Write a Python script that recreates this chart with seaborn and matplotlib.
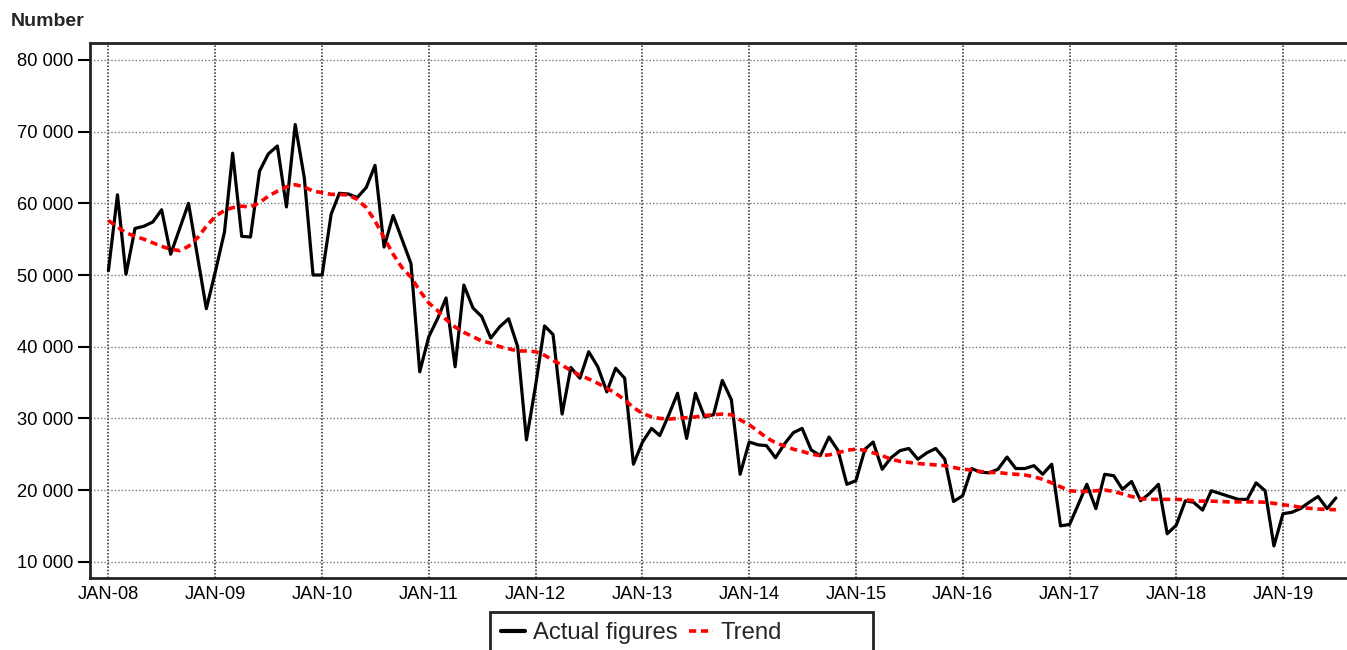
import matplotlib
matplotlib.use('Agg')
import matplotlib.pyplot as plt
import matplotlib.dates as mdates
import matplotlib.ticker as mticker
from matplotlib.patches import Rectangle
from matplotlib.lines import Line2D
import seaborn as sns
import pandas as pd

# monthly series, Jan 2008 - Jul 2019
start_month = '2008-01-01'

actual = [
    50600, 61200, 50100, 56500, 56800, 57400, 59100, 52900, 56500, 60000, 52500, 45300,
    50500, 56000, 67000, 55400, 55300, 64500, 66900, 68000, 59500, 71000, 63600, 50000,
    50000, 58500, 61400, 61300, 60800, 62200, 65300, 53900, 58300, 55000, 51600, 36500,
    41400, 44000, 46800, 37200, 48600, 45400, 44200, 41200, 42800, 43900, 40000, 27000,
    34500, 42900, 41700, 30600, 37100, 35600, 39300, 37200, 33700, 37000, 35600, 23600,
    26700, 28600, 27600, 30500, 33500, 27200, 33500, 30200, 30500, 35300, 32600, 22200,
    26700, 26300, 26200, 24500, 26400, 28000, 28600, 25600, 24800, 27400, 25500, 20800,
    21300, 25700, 26700, 22900, 24500, 25500, 25800, 24300, 25200, 25800, 24300, 18400,
    19200, 23000, 22500, 22400, 22900, 24600, 23000, 23000, 23400, 22200, 23600, 15000,
    15200, 18100, 20800, 17400, 22200, 22000, 20100, 21200, 18500, 19500, 20800, 13900,
    15100, 18500, 18300, 17200, 19900, 19500, 19100, 18700, 18700, 21000, 19900, 12200,
    16700, 16900, 17400, 18300, 19100, 17400, 18900,
]

trend = [
    57600, 56700, 55900, 55400, 55000, 54500, 54000, 53600, 53400, 54000, 55200, 56800,
    58200, 59000, 59400, 59600, 59500, 60100, 61000, 61700, 62300, 62600, 62300, 61700,
    61500, 61250, 61250, 61150, 60550, 59400, 57550, 55200, 52900, 51050, 49700, 47800,
    46100, 45000, 43800, 42750, 42000, 41400, 40800, 40500, 40000, 39700, 39400, 39400,
    39300, 38800, 38100, 37400, 36700, 36000, 35500, 34900, 34200, 33500, 32600, 31500,
    30700, 30200, 30000, 29900, 30000, 30100, 30200, 30400, 30500, 30600, 30500, 29800,
    29100, 28200, 27300, 26600, 26150, 25700, 25400, 25000, 24800, 24900, 25200, 25550,
    25700, 25550, 25200, 24800, 24300, 24000, 23850, 23700, 23600, 23500, 23400, 23150,
    22900, 22800, 22600, 22450, 22450, 22300, 22200, 22100, 21850, 21500, 21000, 20450,
    19900, 19800, 19800, 19900, 20000, 19800, 19450, 19100, 18800, 18700, 18700, 18700,
    18700, 18650, 18500, 18450, 18450, 18400, 18350, 18350, 18350, 18350, 18300, 18150,
    17950, 17800, 17600, 17450, 17350, 17300, 17250,
]

y_ticks = [10000, 20000, 30000, 40000, 50000, 60000, 70000, 80000]

dates = pd.date_range(start_month, periods=len(actual), freq='MS')
df = pd.DataFrame({'date': dates, 'Actual figures': actual, 'Trend': trend})

sns.set_style('white')
plt.rcParams['font.family'] = ['Liberation Sans', 'DejaVu Sans']

fig = plt.figure(figsize=(13.47, 6.5), dpi=100)
ax = fig.add_axes([90 / 1347, 1 - 577.7 / 650, 1 - 90 / 1347, (577.7 - 43) / 650])

sns.lineplot(data=df, x='date', y='Actual figures', ax=ax, color='black', linewidth=2.3)
sns.lineplot(data=df, x='date', y='Trend', ax=ax, color='#ff0000', linewidth=2.6,
             dashes=False, linestyle=(0, (2.0, 1.3)))

ax.set_xlim(pd.Timestamp('2007-10-30'), pd.Timestamp('2019-08-08'))
ax.set_ylim(7770, 82370)
ax.set_xlabel('')
ax.set_ylabel('')

ax.xaxis.set_major_locator(mdates.YearLocator(month=1, day=1))
ax.xaxis.set_major_formatter(mticker.FuncFormatter(
    lambda v, p: mdates.num2date(v).strftime('%b-%y').upper()))
ax.set_yticks(y_ticks)
ax.yaxis.set_major_formatter(mticker.FuncFormatter(lambda v, p: f'{int(v):,}'.replace(',', ' ')))

ax.tick_params(axis='x', length=0, pad=6, labelsize=13.2, colors='black')
ax.tick_params(axis='y', left=True, length=9, width=1.5, pad=3, labelsize=13.2, colors='black')

ax.grid(True, which='major', axis='x', color='#222222', linestyle=(0, (1, 1.2)), linewidth=1.1)
ax.grid(True, which='major', axis='y', color='#777777', linestyle=(0, (1, 1.5)), linewidth=1.0)

for side in ['left', 'bottom', 'top']:
    ax.spines[side].set_visible(True)
    ax.spines[side].set_color('#222222')
    ax.spines[side].set_linewidth(2)
ax.spines['right'].set_visible(False)

fig.text(11 / 1347, 1 - 21 / 650, 'Number', fontsize=14, fontweight='bold', va='center', ha='left')

# legend with a wide frame below the plot
fig.patches.append(Rectangle((490 / 1347, -0.05), (873 - 490) / 1347, (0.05 + 1 - 612 / 650),
                             transform=fig.transFigure, fill=False, edgecolor='#222222', linewidth=2))
handles = [Line2D([], [], color='black', linewidth=3),
           Line2D([], [], color='#ff0000', linewidth=2.6, linestyle=(0, (2.0, 1.3)))]
fig.legend(handles, ['Actual figures', 'Trend'], loc='center left',
           bbox_to_anchor=(489 / 1347, 1 - 633 / 650), ncol=2, frameon=False,
           fontsize=17.2, handlelength=1.0, handletextpad=0.34, columnspacing=0.47, borderpad=0)

fig.savefig('out.png', dpi=100)
